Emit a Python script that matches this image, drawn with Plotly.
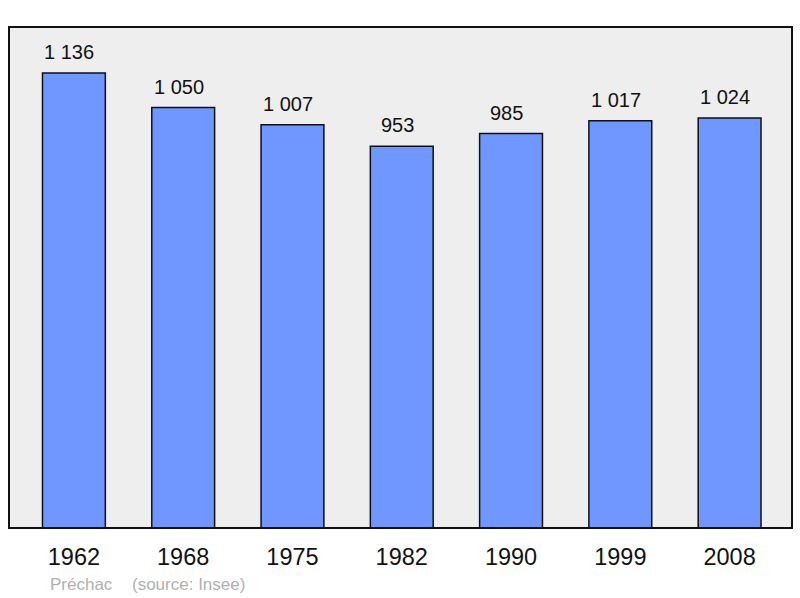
import plotly.graph_objects as go

years = ["1962", "1968", "1975", "1982", "1990", "1999", "2008"]
population = [1136, 1050, 1007, 953, 985, 1017, 1024]
labels = ["1 136", "1 050", "1 007", "953", "985", "1 017", "1 024"]
commune = "Préchac"
source = "(source: Insee)"

xs = list(range(len(years)))
FONT = "Liberation Sans, Arial, sans-serif"

fig = go.Figure()
fig.add_trace(go.Bar(
    x=xs, y=population, width=0.575,
    marker=dict(color="#7097ff", line=dict(color="#111111", width=1.5)),
    hoverinfo="skip",
))

for x, v, t in zip(xs, population, labels):
    fig.add_annotation(x=x, y=v, text=t, showarrow=False, yanchor="bottom",
                       yshift=8, xshift=-4.5,
                       font=dict(size=20, color="#111111", family=FONT))

ysrc = -(584 - 528) / 501
fig.add_annotation(xref="paper", yref="paper", x=(48 - 9) / 784, y=ysrc,
                   xanchor="left", yanchor="middle", text=commune, showarrow=False,
                   font=dict(size=17, color="#b0b0b0", family=FONT))
fig.add_annotation(xref="paper", yref="paper", x=(130 - 9) / 784, y=ysrc,
                   xanchor="left", yanchor="middle", text=source, showarrow=False,
                   font=dict(size=17, color="#b0b0b0", family=FONT))

fig.add_shape(type="rect", xref="paper", yref="paper", x0=0, y0=0, x1=1, y1=1,
              line=dict(color="#111111", width=2), fillcolor="rgba(0,0,0,0)", layer="above")

fig.update_layout(
    width=800, height=598,
    margin=dict(l=9, r=8, t=27, b=70),
    paper_bgcolor="white", plot_bgcolor="#eeeeee",
    showlegend=False,
    font=dict(family=FONT, color="#111111"),
    xaxis=dict(range=[-0.594, 6.571], tickmode="array", tickvals=xs, ticktext=years,
               showgrid=False, zeroline=False, ticks="", tickfont=dict(size=23.5),
               ticklabelstandoff=12, fixedrange=True),
    yaxis=dict(range=[0, 1251], showgrid=False, zeroline=False, showticklabels=False,
               ticks="", fixedrange=True),
)

fig.write_html("out.html", config={"displayModeBar": False},
               post_script="document.body.style.margin='0';document.body.style.overflow='hidden';")
